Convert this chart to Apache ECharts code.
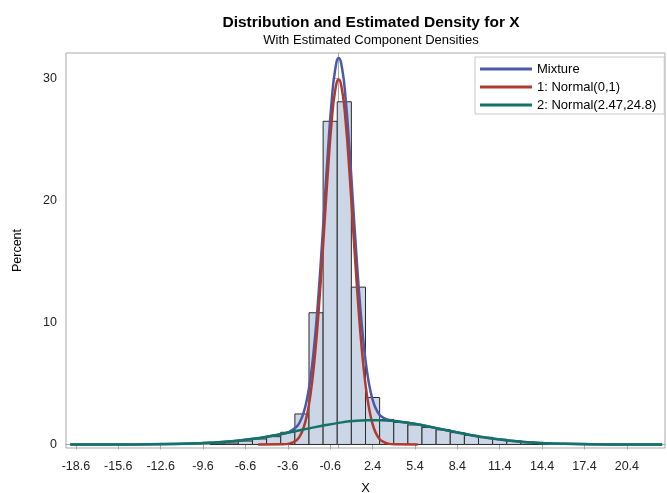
<!DOCTYPE html>
<html>
<head>
<meta charset="utf-8">
<script src="https://cdn.jsdelivr.net/npm/echarts@6/dist/echarts.min.js"></script>
<style>
  html, body { margin: 0; padding: 0; background: #fff; }
  #chart { width: 667px; height: 493px; }
</style>
</head>
<body>
<div id="chart"></div>
<script>
// histogram: bin midpoints (width 1) and percent
var binMid = [-8.6, -7.6, -6.6, -5.6, -4.6, -3.6, -2.6, -1.6, -0.6, 0.4, 1.4, 2.4, 3.4, 4.4, 5.4, 6.4, 7.4, 8.4, 9.4, 10.4, 11.4, 12.4, 13.4, 14.4];
var binPct = [0.05, 0.12, 0.28, 0.45, 0.64, 1.0, 2.5, 10.8, 26.5, 28.1, 12.9, 3.85, 2.05, 1.8, 1.6, 1.4, 1.2, 0.97, 0.75, 0.59, 0.43, 0.3, 0.2, 0.1];

// tick labels
var xTicks = [-18.6, -15.6, -12.6, -9.6, -6.6, -3.6, -0.6, 2.4, 5.4, 8.4, 11.4, 14.4, 17.4, 20.4];
var yTicks = [0, 10, 20, 30];

// estimated densities
var mixX = [-19, -15, -12, -10, -8, -6, -5, -4.5, -4, -3.5, -3, -2.75, -2.5, -2.25, -2, -1.75, -1.5, -1.25, -1, -0.75, -0.5, -0.25, 0, 0.25, 0.5, 0.75, 1, 1.25, 1.5, 1.75, 2, 2.25, 2.5, 2.75, 3, 3.5, 4, 5, 6, 8, 10, 12, 14, 16, 20, 22.9];
var mixY = [0, 0.004, 0.03, 0.09, 0.22, 0.47, 0.65, 0.75, 0.87, 1.04, 1.43, 1.84, 2.53, 3.66, 5.39, 7.87, 11.17, 15.2, 19.72, 24.2, 28.1, 30.7, 31.69, 30.8, 28.25, 24.5, 20.07, 15.64, 11.67, 8.45, 6.04, 4.38, 3.31, 2.68, 2.32, 2.03, 1.92, 1.76, 1.56, 1.08, 0.64, 0.32, 0.14, 0.05, 0.004, 0];

var n1X = [-5.7, -4, -3.5, -3, -2.75, -2.5, -2.25, -2, -1.75, -1.5, -1.25, -1, -0.75, -0.5, -0.25, 0, 0.25, 0.5, 0.75, 1, 1.25, 1.5, 1.75, 2, 2.25, 2.5, 2.75, 3, 3.5, 4, 5.6];
var n1Y = [0, 0.01, 0.07, 0.33, 0.68, 1.31, 2.38, 4.05, 6.47, 9.71, 13.7, 18.15, 22.6, 26.4, 29.0, 29.92, 29.0, 26.4, 22.6, 18.15, 13.7, 9.71, 6.47, 4.05, 2.38, 1.31, 0.68, 0.33, 0.07, 0.01, 0];

var n2X = [-19, -15, -12, -10, -9, -8, -7, -6, -5, -4, -3, -2, -1, 0, 1, 2, 3, 4, 5, 6, 7, 8, 9, 10, 11, 12, 13, 14, 15, 16, 18, 20, 22.9];
var n2Y = [0, 0.004, 0.03, 0.087, 0.14, 0.22, 0.33, 0.47, 0.65, 0.86, 1.10, 1.34, 1.57, 1.77, 1.92, 1.99, 1.99, 1.91, 1.76, 1.56, 1.32, 1.08, 0.85, 0.64, 0.46, 0.32, 0.21, 0.14, 0.085, 0.05, 0.015, 0.004, 0];

var binWidth = 1;

function pairs(xs, ys) {
    var out = [];
    for (var i = 0; i < xs.length; i++) out.push([xs[i], ys[i]]);
    return out;
}

var myChart = echarts.init(document.getElementById('chart'));
var font = 'Liberation Sans, Arial, sans-serif';

myChart.setOption({
    backgroundColor: '#fff',
    animation: false,
    title: {
        text: 'Distribution and Estimated Density for X',
        subtext: 'With Estimated Component Densities',
        left: 366,
        textAlign: 'center',
        top: 10,
        itemGap: 3,
        textStyle: { fontFamily: font, fontSize: 15.5, fontWeight: 'bold', color: '#000' },
        subtextStyle: { fontFamily: font, fontSize: 13, color: '#000' }
    },
    legend: {
        orient: 'vertical',
        left: 475,
        top: 57,
        padding: [5, 8, 2, 5],
        itemWidth: 52,
        itemHeight: 3,
        itemGap: 4,
        icon: 'rect',
        borderColor: '#c8c8c8',
        borderWidth: 1,
        textStyle: { fontFamily: font, fontSize: 13, color: '#000', lineHeight: 14 },
        data: ['Mixture', '1: Normal(0,1)', '2: Normal(2.47,24.8)']
    },
    grid: {
        left: 66, top: 53, right: 2, bottom: 45,
        outerBoundsMode: 'none',
        show: true, borderColor: '#a8a8a8', borderWidth: 1
    },
    xAxis: {
        type: 'value',
        min: -19.3, max: 23.1,
        name: 'X',
        nameLocation: 'middle',
        nameGap: 34,
        nameTextStyle: { fontFamily: font, fontSize: 13, color: '#000' },
        axisLine: { lineStyle: { color: '#a8a8a8' } },
        axisTick: { length: 5, lineStyle: { color: '#a8a8a8' }, customValues: xTicks },
        axisLabel: {
            customValues: xTicks, margin: 12,
            fontFamily: font, fontSize: 12.5, color: '#222',
            formatter: function (v) { return v.toFixed(1); }
        },
        splitLine: { show: false }
    },
    yAxis: {
        type: 'value',
        min: -0.29, max: 32.1,
        name: 'Percent',
        nameLocation: 'middle',
        nameGap: 42,
        nameTextStyle: { fontFamily: font, fontSize: 12.5, color: '#000' },
        axisLine: { show: true, lineStyle: { color: '#a8a8a8' } },
        axisTick: { show: true, length: 6, lineStyle: { color: '#a8a8a8' }, customValues: yTicks },
        axisLabel: { customValues: yTicks, margin: 9, fontFamily: font, fontSize: 12.5, color: '#222' },
        splitLine: { show: false }
    },
    series: [
        {
            name: 'Histogram',
            type: 'custom',
            data: pairs(binMid, binPct),
            renderItem: function (params, api) {
                var x = api.value(0), h = api.value(1);
                var p0 = api.coord([x - binWidth / 2, h]);
                var p1 = api.coord([x + binWidth / 2, 0]);
                return {
                    type: 'rect',
                    shape: { x: p0[0], y: p0[1], width: p1[0] - p0[0], height: p1[1] - p0[1] },
                    style: { fill: '#cbd6e6', stroke: '#2b2b2b', lineWidth: 1 }
                };
            },
            z: 1
        },
        {
            name: 'Mixture',
            type: 'line',
            data: pairs(mixX, mixY),
            smooth: true,
            symbol: 'none',
            color: '#4a5aa8',
            lineStyle: { width: 2.5, color: '#4a5aa8' },
            z: 2
        },
        {
            name: '1: Normal(0,1)',
            type: 'line',
            data: pairs(n1X, n1Y),
            smooth: true,
            symbol: 'none',
            color: '#b03a2e',
            lineStyle: { width: 2.5, color: '#b03a2e' },
            z: 3
        },
        {
            name: '2: Normal(2.47,24.8)',
            type: 'line',
            data: pairs(n2X, n2Y),
            smooth: true,
            symbol: 'none',
            color: '#137366',
            lineStyle: { width: 2.5, color: '#137366' },
            z: 4
        }
    ]
});
</script>
</body>
</html>
